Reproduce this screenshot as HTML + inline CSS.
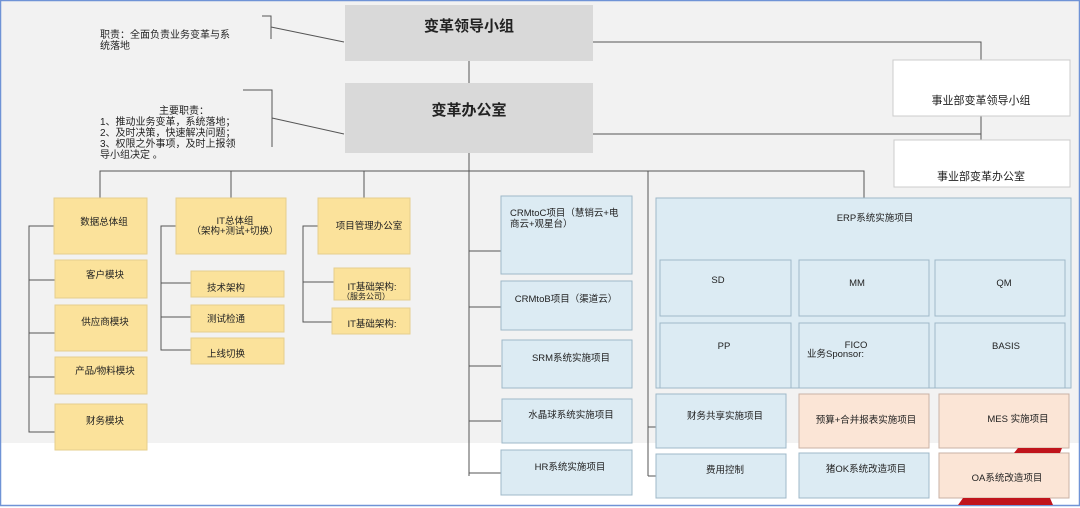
<!DOCTYPE html>
<html><head><meta charset="utf-8"><style>
html,body{margin:0;padding:0;background:#fff}
svg{display:block}
text{font-family:"Liberation Sans","Noto Sans CJK SC",sans-serif;fill:#222}
</style></head><body>
<svg width="1080" height="508" viewBox="0 0 1080 508" xmlns="http://www.w3.org/2000/svg">
<rect x="0" y="0" width="1080" height="508" fill="#fff"/>
<rect x="1" y="1" width="1078" height="442" fill="#f2f2f2"/>
<rect x="0.5" y="0.5" width="1079" height="505" fill="none" stroke="#6f93d6" stroke-width="1.5"/>
<g stroke="#555" stroke-width="1" fill="none">
<path d="M469 61V83M469 153V476M100 198V171H864V198M231 171V198M364 171V198M648 171V476"/>
<path d="M593 42H981V60M593 134H981M981 116V140"/>
<path d="M262 16H271V39M271 27L344 42"/>
<path d="M243 90H272V147M272 118L344 134"/>
<path d="M54 226H29V432H55M29 280H55M29 333H55M29 377H55"/>
<path d="M176 226H161V350H191M161 283H191M161 317H191"/>
<path d="M318 226H303V322H332M303 282H334"/>
<path d="M469 251H501M469 307H501M469 366H501M469 421H501M469 473H501"/>
<path d="M648 427H656M648 476H656"/>
</g>
<rect x="345" y="5" width="248" height="56" fill="#d9d9d9"/>
<text x="469" y="31" font-size="15" font-weight="bold" text-anchor="middle">变革领导小组</text>
<rect x="345" y="83" width="248" height="70" fill="#d9d9d9"/>
<text x="469" y="115" font-size="15" font-weight="bold" text-anchor="middle">变革办公室</text>
<rect x="893" y="60" width="177" height="56" fill="#fff" stroke="#ccc"/>
<text x="981" y="104" font-size="11" text-anchor="middle">事业部变革领导小组</text>
<rect x="894" y="140" width="176" height="47" fill="#fff" stroke="#ccc"/>
<text x="981" y="180" font-size="11" text-anchor="middle">事业部变革办公室</text>
<g font-size="10">
<text x="100" y="38">职责：全面负责业务变革与系</text>
<text x="100" y="49">统落地</text>
<text x="184" y="114" text-anchor="middle">主要职责：</text>
<text x="100" y="125">1、推动业务变革，系统落地；</text>
<text x="100" y="136">2、及时决策，快速解决问题；</text>
<text x="100" y="147">3、权限之外事项，及时上报领</text>
<text x="100" y="158">导小组决定 。</text>
</g>
<g fill="#fbe29b" stroke="#e6cf8e">
<rect x="54" y="198" width="93" height="56"/>
<rect x="55" y="260" width="92" height="38"/>
<rect x="55" y="305" width="92" height="46"/>
<rect x="55" y="357" width="92" height="37"/>
<rect x="55" y="404" width="92" height="46"/>
<rect x="176" y="198" width="110" height="56"/>
<rect x="191" y="271" width="93" height="26"/>
<rect x="191" y="305" width="93" height="27"/>
<rect x="191" y="338" width="93" height="26"/>
<rect x="318" y="198" width="92" height="56"/>
<rect x="334" y="268" width="76" height="32"/>
<rect x="332" y="308" width="78" height="26"/>
</g>
<g font-size="9.5">
<text x="104" y="225" text-anchor="middle">数据总体组</text>
<text x="105" y="278" text-anchor="middle">客户模块</text>
<text x="105" y="325" text-anchor="middle">供应商模块</text>
<text x="105" y="374" text-anchor="middle">产品/物料模块</text>
<text x="105" y="424" text-anchor="middle">财务模块</text>
<text x="235" y="224" text-anchor="middle">IT总体组</text>
<text x="235" y="234" text-anchor="middle">（架构+测试+切换）</text>
<text x="226" y="291" text-anchor="middle">技术架构</text>
<text x="226" y="322" text-anchor="middle">测试检通</text>
<text x="226" y="357" text-anchor="middle">上线切换</text>
<text x="369" y="229" text-anchor="middle">项目管理办公室</text>
<text x="372" y="290" text-anchor="middle">IT基础架构:</text>
<text x="366" y="299" text-anchor="middle" font-size="8">（服务公司）</text>
<text x="372" y="327" text-anchor="middle">IT基础架构:</text>
</g>
<g fill="#dcebf3" stroke="#9fb8c8">
<rect x="501" y="196" width="131" height="78"/>
<rect x="501" y="281" width="131" height="49"/>
<rect x="502" y="340" width="130" height="48"/>
<rect x="502" y="399" width="130" height="44"/>
<rect x="501" y="450" width="131" height="45"/>
<rect x="656" y="198" width="415" height="190"/>
<rect x="660" y="260" width="131" height="56"/>
<rect x="799" y="260" width="130" height="56"/>
<rect x="935" y="260" width="130" height="56"/>
<rect x="660" y="323" width="131" height="65"/>
<rect x="799" y="323" width="130" height="65"/>
<rect x="935" y="323" width="130" height="65"/>
<rect x="656" y="394" width="130" height="54"/>
<rect x="656" y="454" width="130" height="44"/>
<rect x="799" y="453" width="130" height="45"/>
</g>
<g fill="#fbe5d6" stroke="#c9b2a5">
<rect x="799" y="394" width="130" height="54"/>
<rect x="939" y="394" width="130" height="54"/>
<rect x="939" y="453" width="130" height="45"/>
</g>
<path d="M1018 448H1062L1060 453H1014Z M963 498H1050L1053 505H958Z" fill="#c0141c"/>
<g font-size="9.5">
<text x="510" y="216">CRMtoC项目（慧销云+电</text>
<text x="510" y="227">商云+观星台）</text>
<text x="566" y="302" text-anchor="middle">CRMtoB项目（渠道云）</text>
<text x="571" y="361" text-anchor="middle">SRM系统实施项目</text>
<text x="571" y="418" text-anchor="middle">水晶球系统实施项目</text>
<text x="570" y="470" text-anchor="middle">HR系统实施项目</text>
<text x="875" y="221" text-anchor="middle">ERP系统实施项目</text>
<text x="718" y="283" text-anchor="middle">SD</text>
<text x="857" y="286" text-anchor="middle">MM</text>
<text x="1004" y="286" text-anchor="middle">QM</text>
<text x="724" y="349" text-anchor="middle">PP</text>
<text x="856" y="348" text-anchor="middle" fill="#666">FICO</text>
<text x="807" y="357" fill="#666">业务Sponsor:</text>
<text x="1006" y="349" text-anchor="middle">BASIS</text>
<text x="725" y="419" text-anchor="middle">财务共享实施项目</text>
<text x="866" y="423" text-anchor="middle">预算+合并报表实施项目</text>
<text x="1018" y="422" text-anchor="middle">MES 实施项目</text>
<text x="725" y="473" text-anchor="middle">费用控制</text>
<text x="866" y="472" text-anchor="middle">猪OK系统改造项目</text>
<text x="1007" y="481" text-anchor="middle">OA系统改造项目</text>
</g>
</svg>
</body></html>
